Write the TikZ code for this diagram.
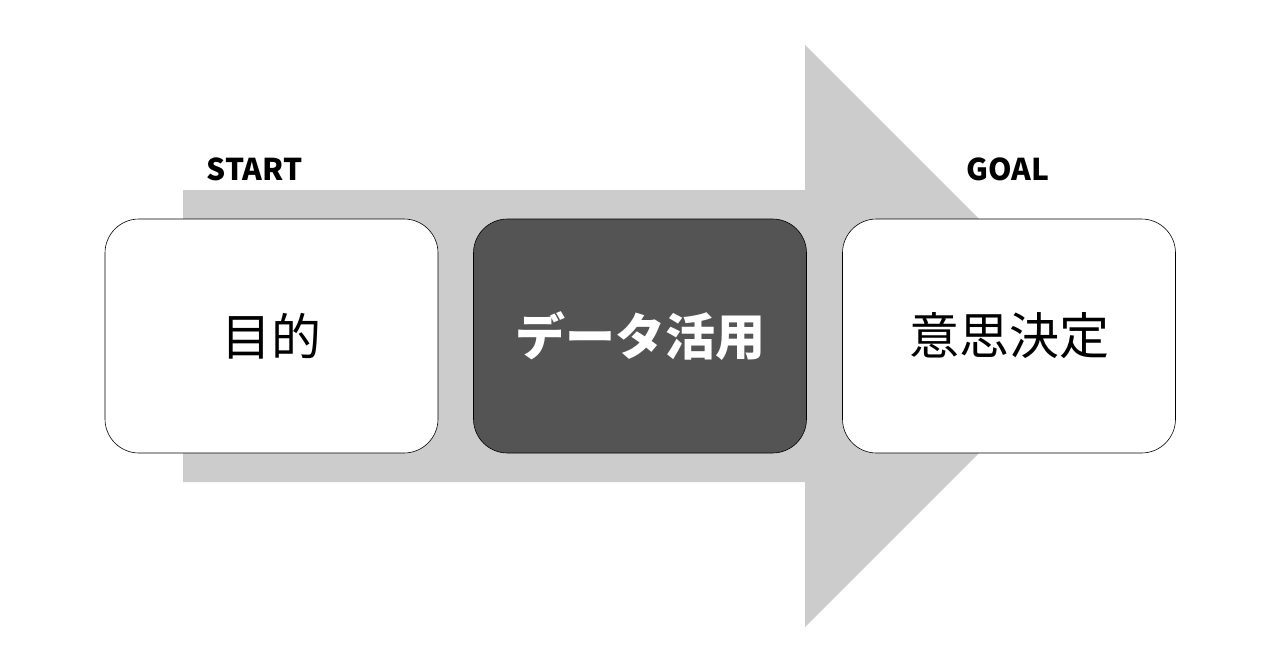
\documentclass[tikz,border=0pt]{standalone}
\usepackage{fontspec}
\setmainfont{Noto Sans CJK JP}
\begin{document}
\begin{tikzpicture}[x=1pt,y=-1pt,
  card/.style={draw=black,line width=0.6pt,rounded corners=34pt,minimum width=333pt,minimum height=234pt,inner sep=0pt},
  lbl/.style={font=\fontsize{30}{32}\selectfont\bfseries}]
\useasboundingbox (0,0) rectangle (1280,670);
\fill[white] (0,0) rectangle (1280,670);
\fill[gray!40] (183,190) -- (805,190) -- (805,45) -- (1096,336) -- (805,627) -- (805,482) -- (183,482) -- cycle;
\node[card,fill=white] (a) at (271.5,336) {\fontsize{50}{56}\selectfont 目的};
\node[card,fill=black!67] (b) at (640,336) {\fontsize{50}{56}\selectfont\bfseries\color{white} データ活用};
\node[card,fill=white] (c) at (1009,336) {\fontsize{50}{56}\selectfont 意思決定};
\node[lbl,anchor=west] (s) at (203,169) {START};
\node[lbl] (g) at (1008,169) {GOAL};
\end{tikzpicture}
\end{document}
